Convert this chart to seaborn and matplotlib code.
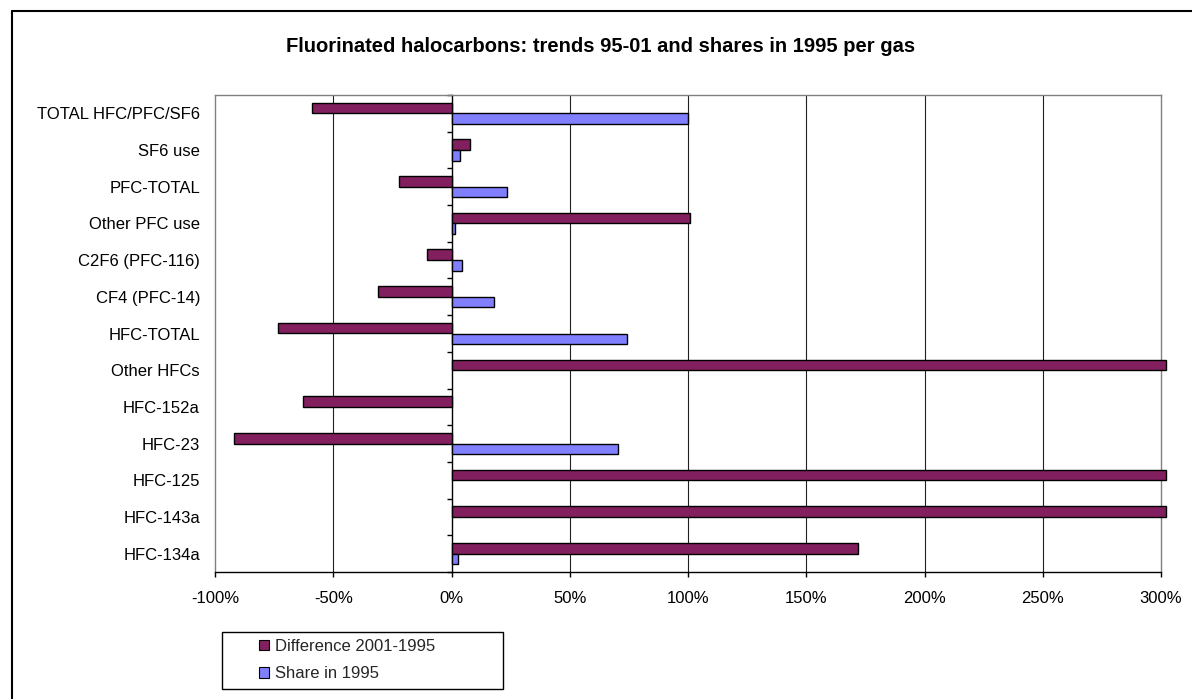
import numpy as np
import pandas as pd
import matplotlib
matplotlib.use("Agg")
import matplotlib.pyplot as plt
import seaborn as sns
from matplotlib.patches import Rectangle, Patch
from matplotlib.lines import Line2D
from matplotlib.ticker import FixedLocator

# ---- data ----
categories = ["TOTAL HFC/PFC/SF6", "SF6 use", "PFC-TOTAL", "Other PFC use",
              "C2F6 (PFC-116)", "CF4 (PFC-14)", "HFC-TOTAL", "Other HFCs",
              "HFC-152a", "HFC-23", "HFC-125", "HFC-143a", "HFC-134a"]
difference = [-59, 8, -22, 101, -10.5, -31, -73.5, 302, -63, -92, 302, 302, 172]
share = [100, 3.7, 23.3, 1.3, 4.4, 17.8, 74.3, np.nan, np.nan, 70.5, np.nan, np.nan, 2.9]
series_names = ["Difference 2001-1995", "Share in 1995"]
series_colors = ["#821F5E", "#8080FF"]
x_ticks = [-100, -50, 0, 50, 100, 150, 200, 250, 300]
x_tick_labels = ["-100%", "-50%", "0%", "50%", "100%", "150%", "200%", "250%", "300%"]
title = "Fluorinated halocarbons: trends 95-01 and shares in 1995 per gas"

df = pd.DataFrame({
    "category": categories * 2,
    "value": difference + share,
    "series": [series_names[0]] * len(categories) + [series_names[1]] * len(categories),
})

sns.set_style("white")
plt.rcParams["font.family"] = ["Liberation Sans", "DejaVu Sans"]
plt.rcParams["axes.unicode_minus"] = False

W, H = 1192, 699
fig = plt.figure(figsize=(W / 100, H / 100), dpi=100)
ax = fig.add_axes([215 / W, 1 - 572 / H, (1161 - 215) / W, (572 - 95) / H])

sns.barplot(data=df, x="value", y="category", hue="series", order=categories,
            hue_order=series_names, palette=series_colors, orient="h",
            width=0.58, edgecolor="black", linewidth=1.0, saturation=1,
            errorbar=None, dodge=True, legend=False, ax=ax)

for p in ax.patches:
    p.set_clip_on(False)
    p.set_zorder(3)

ax.set_xlim(-100, 300)
ax.set_ylim(len(categories) - 0.5, -0.5)
ax.xaxis.set_major_locator(FixedLocator(x_ticks))
ax.set_xticklabels(x_tick_labels)
ax.set_xlabel("")
ax.set_ylabel("")

ax.tick_params(axis="y", length=0, pad=10.8, labelsize=12, labelcolor="black")
ax.tick_params(axis="x", direction="out", length=3.6, width=1, color="black",
               pad=10, labelsize=12, labelcolor="black", bottom=True)

ax.grid(axis="x", color="#202020", linewidth=0.8)
ax.set_axisbelow(True)
for gl, v in zip(ax.get_xgridlines(), x_ticks):
    if v in (-100, 0, 300):
        gl.set_visible(False)

for side in ["left", "top", "right"]:
    ax.spines[side].set_color("#808080")
    ax.spines[side].set_linewidth(1.0)
    ax.spines[side].set_visible(True)
ax.spines["bottom"].set_color("black")
ax.spines["bottom"].set_linewidth(1.0)
ax.spines["bottom"].set_visible(True)

# category axis crossing at 0%
sec = ax.secondary_yaxis((0 - (-100)) / 400)
sec.set_yticks(np.arange(-0.5, len(categories), 1.0))
sec.set_yticklabels([])
sec.tick_params(axis="y", direction="out", length=3.6, width=1, color="black")
for s in sec.spines.values():
    s.set_color("black")
    s.set_linewidth(1.0)

# title
fig.text(601 / W, 1 - 47 / H, title, ha="center", va="center",
         fontsize=14.5, fontweight="bold", color="black")

# legend
handles = [Patch(facecolor=c, edgecolor="black", linewidth=0.8, label=n)
           for c, n in zip(series_colors, series_names)]
fig.legend(handles=handles, loc="center", bbox_to_anchor=(347 / W, 1 - 660 / H),
           frameon=False, fontsize=12, handlelength=0.6, handleheight=0.6,
           handletextpad=0.35, labelspacing=0.75)
fig.add_artist(Rectangle((222 / W, 1 - 689 / H), 281 / W, 57 / H, fill=False,
                         edgecolor="black", linewidth=1.0, transform=fig.transFigure))

# outer chart frame (left and top edges visible)
fig.add_artist(Line2D([12 / W, 12 / W], [0, 1 - 11 / H], color="black",
                      linewidth=1.5, transform=fig.transFigure))
fig.add_artist(Line2D([12 / W, 1], [1 - 11 / H, 1 - 11 / H], color="black",
                      linewidth=1.5, transform=fig.transFigure))

fig.savefig("out.png", dpi=100, facecolor="white")
